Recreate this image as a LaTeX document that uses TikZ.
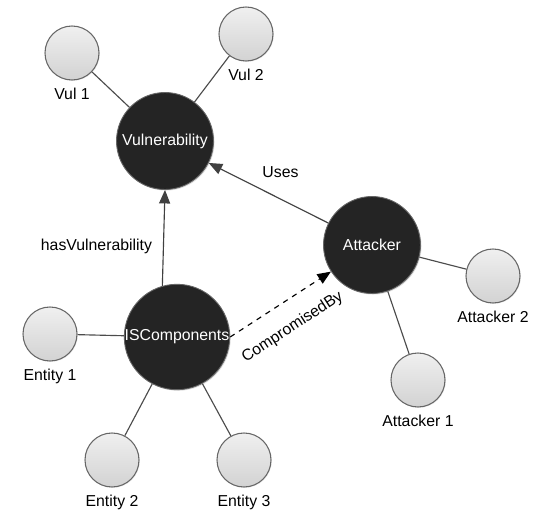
\documentclass[tikz,border=0pt]{standalone}
\usepackage{fontspec}
\setmainfont{Liberation Sans}
\usepackage{tikz}
\usetikzlibrary{arrows.meta, positioning, shadows}

\begin{document}
\begin{tikzpicture}[
    font=\small,
    >={Triangle[length=0.27cm, width=0.22cm]},
    % Node styles
    concept/.style={circle, draw=black!60, line width=0.5pt, fill=black!86, text=white, minimum size=1.94cm, inner sep=0pt, align=center, drop shadow={opacity=0.25, shadow xshift=0.6pt, shadow yshift=-0.6pt}},
    instance/.style={circle, draw=black!60, line width=0.6pt, top color=gray!12, bottom color=gray!35, minimum size=1.08cm, inner sep=0pt, drop shadow={opacity=0.15, shadow xshift=0.5pt, shadow yshift=-0.5pt}},
    % Edge styles
    link/.style={draw=black!70, line width=0.65pt},
    arrow/.style={->, draw=black!75, line width=0.65pt},
    dasharrow/.style={->, draw=black, line width=0.65pt, dashed}
]
\useasboundingbox (0,0) rectangle (10.7,-10.22);

% -----------------------------------------------------------
% Main concepts
% -----------------------------------------------------------
\node[concept] (vuln) at (3.3, -2.82) {Vulnerability};
\node[concept] (attacker) at (7.44, -4.9) {Attacker};
\node[concept, minimum size=2.02cm] (iscomp) at (3.54, -6.74) {ISComponents};

% -----------------------------------------------------------
% Instances
% -----------------------------------------------------------
\node[instance, label={[label distance=1pt]below:Vul 1}] (vul1) at (1.44, -1.06) {};
\node[instance, label={[label distance=1pt]below:Vul 2}] (vul2) at (4.92, -0.68) {};
\node[instance, label={[label distance=1pt]below:Attacker 2}] (att2) at (9.86, -5.52) {};
\node[instance, label={[label distance=1pt]below:Attacker 1}] (att1) at (8.36, -7.6) {};
\node[instance, label={[label distance=1pt]below:Entity 1}] (ent1) at (1.0, -6.68) {};
\node[instance, label={[label distance=1pt]below:Entity 2}] (ent2) at (2.24, -9.2) {};
\node[instance, label={[label distance=1pt]below:Entity 3}] (ent3) at (4.88, -9.2) {};

% -----------------------------------------------------------
% Connectors
% -----------------------------------------------------------
\draw[link] (vul1) -- (vuln);
\draw[link] (vul2) -- (vuln);
\draw[link] (att2) -- (attacker);
\draw[link] (att1) -- (attacker);
\draw[link] (ent1) -- (iscomp);
\draw[link] (ent2) -- (iscomp);
\draw[link] (ent3) -- (iscomp);

% Relations
\draw[arrow] (attacker) -- node[pos=0.4, above=0.3cm] {Uses} (vuln);
\draw[arrow] (iscomp.106) -- node[pos=0.41, left=0.1cm] {hasVulnerability} (vuln.south);
\draw[dasharrow] (iscomp.east) -- node[pos=0.48, sloped, below=0.24cm] {CompromisedBy} (attacker);

\end{tikzpicture}
\end{document}
